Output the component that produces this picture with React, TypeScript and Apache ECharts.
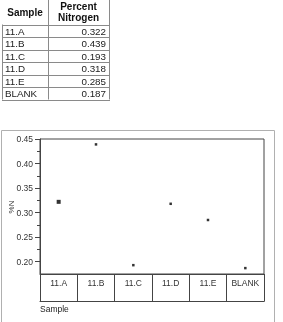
import React, { useEffect, useRef } from "react";
import * as echarts from "echarts";

const categories = ["11.A", "11.B", "11.C", "11.D", "11.E", "BLANK"];
const nitrogen = [0.322, 0.439, 0.193, 0.318, 0.285, 0.187];
const nitrogenText = ["0.322", "0.439", "0.193", "0.318", "0.285", "0.187"];
const majorTicks = [0.2, 0.25, 0.3, 0.35, 0.4, 0.45];
const minorTicks = [0.225, 0.275, 0.325, 0.375, 0.425];
const tableHeaders = ["Sample", "Percent\nNitrogen"];

const FONT = "Liberation Sans, Arial, sans-serif";

export default function App() {
  const ref = useRef<HTMLDivElement>(null);
  useEffect(() => {
    if (!ref.current) return;
    const chart = echarts.init(ref.current, undefined, { renderer: "svg" });

    const tLeft = 2, tDiv = 48, tRight = 109, headBottom = 24.5, rowH = 12.5;
    const lineColor = "#8a8a8a";
    const g: any[] = [];
    g.push({ type: "text", x: (tLeft + tDiv) / 2, y: 12.5, style: { text: tableHeaders[0], font: `bold 10px ${FONT}`, fill: "#111", align: "center", verticalAlign: "middle" } });
    g.push({ type: "text", x: (tDiv + tRight) / 2, y: 12, style: { text: tableHeaders[1], font: `bold 10px ${FONT}`, fill: "#111", align: "center", verticalAlign: "middle", lineHeight: 11.5 } });
    const nRows = categories.length;
    const tBottom = headBottom + nRows * rowH;
    g.push({ type: "line", shape: { x1: tDiv + 0.5, y1: 0, x2: tDiv + 0.5, y2: tBottom }, style: { stroke: lineColor, lineWidth: 1 } });
    g.push({ type: "line", shape: { x1: tRight + 0.5, y1: 0, x2: tRight + 0.5, y2: tBottom }, style: { stroke: lineColor, lineWidth: 1 } });
    g.push({ type: "line", shape: { x1: tLeft + 0.5, y1: headBottom, x2: tLeft + 0.5, y2: tBottom }, style: { stroke: lineColor, lineWidth: 1 } });
    for (let i = 0; i <= nRows; i++) {
      const y = Math.round(headBottom + i * rowH) + 0.5;
      g.push({ type: "line", shape: { x1: tLeft, y1: y, x2: tRight + 1, y2: y }, style: { stroke: lineColor, lineWidth: 1 } });
    }
    categories.forEach((c, i) => {
      const cy = headBottom + i * rowH + rowH / 2 + 0.5;
      g.push({ type: "text", x: tLeft + 3, y: cy, style: { text: c, font: `9.8px ${FONT}`, fill: "#222", align: "left", verticalAlign: "middle" } });
      g.push({ type: "text", x: tRight - 3, y: cy, style: { text: nitrogenText[i], font: `9.8px ${FONT}`, fill: "#222", align: "right", verticalAlign: "middle" } });
    });
    g.push({ type: "rect", shape: { x: 1.5, y: 130.5, width: 273, height: 220 }, style: { fill: "none", stroke: "#b0b0b0", lineWidth: 1 } });
    g.push({ type: "text", x: 40, y: 309, style: { text: "Sample", font: `8.5px ${FONT}`, fill: "#222", align: "left", verticalAlign: "middle" } });
    g.push({ type: "text", x: 11, y: 207, rotation: Math.PI / 2, style: { text: "%N", font: `8px ${FONT}`, fill: "#333", align: "center", verticalAlign: "middle" } });

    const axisColor = "#444";
    chart.setOption({
      animation: false,
      textStyle: { fontFamily: FONT },
      grid: { left: 40, top: 139, width: 224, height: 135, show: true, borderColor: axisColor, borderWidth: 1, backgroundColor: "transparent", outerBoundsMode: "none", containLabel: false },
      xAxis: [
        {
          type: "category",
          data: categories,
          boundaryGap: true,
          axisLine: { show: true, lineStyle: { color: axisColor } },
          axisTick: { show: true, length: 27.5, interval: 0, lineStyle: { color: axisColor } },
          axisLabel: { margin: 4, fontSize: 8.5, color: "#333", interval: 0 },
          splitLine: { show: false },
        },
        {
          type: "category",
          data: categories,
          position: "bottom",
          offset: 27.5,
          axisLine: { show: true, lineStyle: { color: axisColor } },
          axisTick: { show: false },
          axisLabel: { show: false },
          splitLine: { show: false },
        },
      ],
      yAxis: [
        {
          type: "value",
          min: 0.175,
          max: 0.45,
          axisLine: { show: true, lineStyle: { color: axisColor } },
          axisTick: { show: true, length: 5, customValues: majorTicks, lineStyle: { color: axisColor } },
          axisLabel: { customValues: majorTicks, formatter: (v: number) => v.toFixed(2), fontSize: 8.5, color: "#333", margin: 7 },
          splitLine: { show: false },
        },
        {
          type: "value",
          min: 0.175,
          max: 0.45,
          position: "left",
          axisLine: { show: false },
          axisTick: { show: true, length: 3, customValues: minorTicks, lineStyle: { color: axisColor } },
          axisLabel: { show: false },
          splitLine: { show: false },
        },
      ],
      series: [
        {
          type: "scatter",
          xAxisIndex: 0,
          yAxisIndex: 0,
          symbol: "rect",
          data: nitrogen.map((v, i) => ({ value: [categories[i], v], symbolSize: i === 0 ? 4 : 2.5 })),
          itemStyle: { color: "#000" },
        },
      ],
      graphic: g,
    });
    return () => chart.dispose();
  }, []);
  return <div ref={ref} style={{ position: "fixed", left: 0, top: 0, width: 283, height: 322 }} />;
}
